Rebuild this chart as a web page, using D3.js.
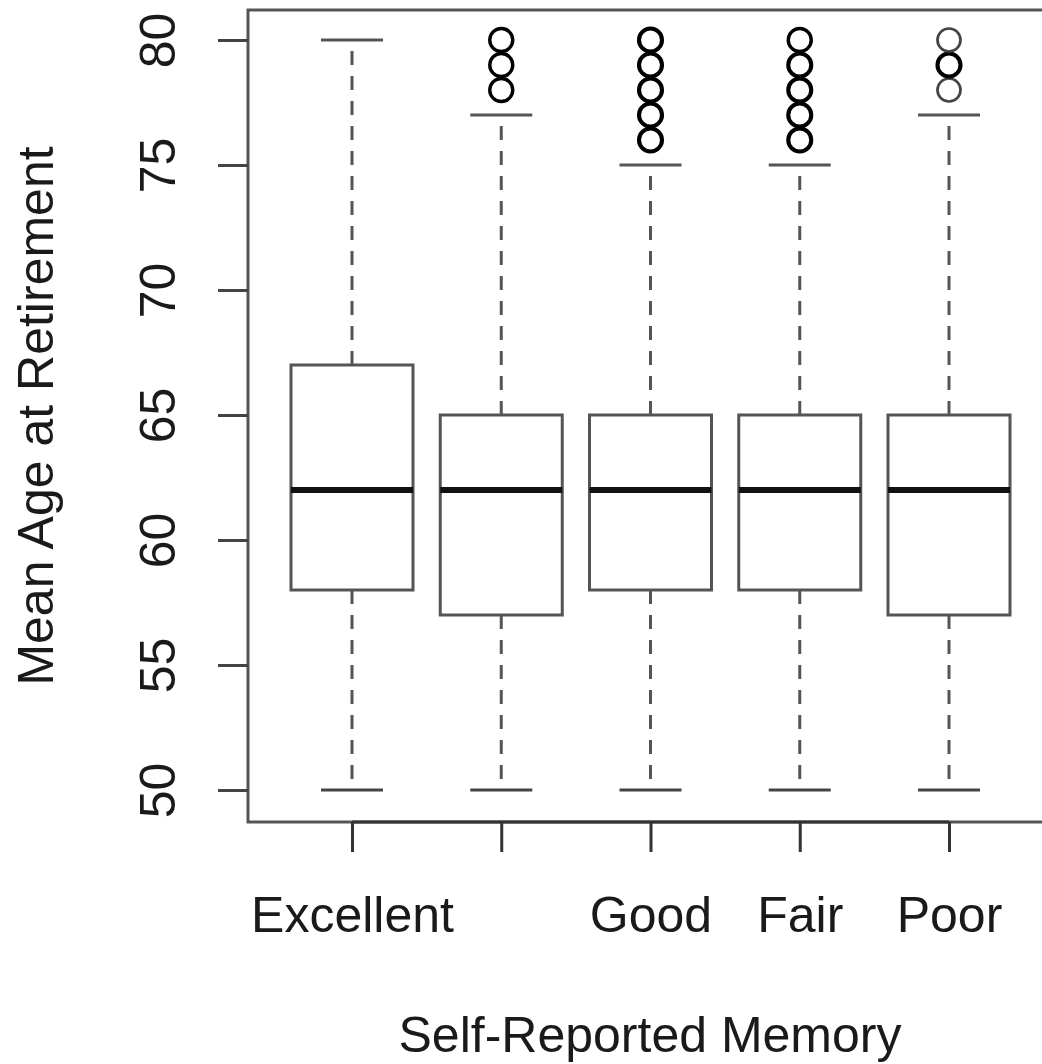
<!DOCTYPE html>
<html>
<head>
<meta charset="utf-8">
<script src="https://cdn.jsdelivr.net/npm/d3@7"></script>
<style>
  body { margin: 0; background: #fff; }
  svg { display: block; font-family: "Liberation Sans", Arial, sans-serif; }
</style>
</head>
<body>
<div id="chart"></div>
<script>
// boxplot stats
const categories = ["Excellent", "Very Good", "Good", "Fair", "Poor"];
const tickLabels = ["Excellent", "", "Good", "Fair", "Poor"]; // R dropped the 2nd label (overlap)
const whiskerLow = [50, 50, 50, 50, 50];
const q1 = [58, 57, 58, 58, 57];
const median = [62, 62, 62, 62, 62];
const q3 = [67, 65, 65, 65, 65];
const whiskerHigh = [80, 77, 75, 75, 77];
// outliers: [value, how many overplotted (roughly)]
const outliers = [
  [],
  [[78, 2], [79, 2], [80, 2]],
  [[76, 3], [77, 3], [78, 3], [79, 3], [80, 3]],
  [[76, 3], [77, 3], [78, 3], [79, 3], [80, 2]],
  [[78, 1], [79, 3], [80, 1]]
];
const yTicks = [50, 55, 60, 65, 70, 75, 80];

const width = 1042;
const height = 1064;

const svg = d3.select("#chart")
    .append("svg")
    .attr("width", width)
    .attr("height", height);

const x = d3.scalePoint()
    .domain(categories)
    .range([352, 949]);

const y = d3.scaleLinear()
    .domain([50, 80])
    .range([790, 40]);

const boxHalf = 61;
const capHalf = 31;

// plot frame (right edge runs off the image)
svg.append("rect")
    .attr("x", 248)
    .attr("y", 10)
    .attr("width", 860)
    .attr("height", 812)
    .attr("fill", "none")
    .attr("stroke", "#555")
    .attr("stroke-width", 3);

const boxes = svg.append("g")
    .selectAll("g")
    .data(categories)
    .enter()
    .append("g")
    .attr("transform", d => `translate(${x(d)},0)`);

// whiskers
boxes.append("line")
    .attr("y1", (d, i) => y(q3[i]))
    .attr("y2", (d, i) => y(whiskerHigh[i]))
    .attr("stroke", "#555")
    .attr("stroke-width", 3)
    .attr("stroke-dasharray", "14,11");

boxes.append("line")
    .attr("y1", (d, i) => y(q1[i]))
    .attr("y2", (d, i) => y(whiskerLow[i]))
    .attr("stroke", "#555")
    .attr("stroke-width", 3)
    .attr("stroke-dasharray", "14,11");

// caps
boxes.append("line")
    .attr("x1", -capHalf).attr("x2", capHalf)
    .attr("y1", (d, i) => y(whiskerHigh[i]))
    .attr("y2", (d, i) => y(whiskerHigh[i]))
    .attr("stroke", "#555")
    .attr("stroke-width", 3);

boxes.append("line")
    .attr("x1", -capHalf).attr("x2", capHalf)
    .attr("y1", (d, i) => y(whiskerLow[i]))
    .attr("y2", (d, i) => y(whiskerLow[i]))
    .attr("stroke", "#444")
    .attr("stroke-width", 3);

// the box
boxes.append("rect")
    .attr("x", -boxHalf)
    .attr("width", boxHalf * 2)
    .attr("y", (d, i) => y(q3[i]))
    .attr("height", (d, i) => y(q1[i]) - y(q3[i]))
    .attr("fill", "#fff")
    .attr("stroke", "#555")
    .attr("stroke-width", 3);

// median
boxes.append("line")
    .attr("x1", -boxHalf).attr("x2", boxHalf)
    .attr("y1", (d, i) => y(median[i]))
    .attr("y2", (d, i) => y(median[i]))
    .attr("stroke", "#111")
    .attr("stroke-width", 6);

// outlier circles
boxes.each(function(d, i) {
    d3.select(this).selectAll("circle")
        .data(outliers[i])
        .enter()
        .append("circle")
        .attr("cy", o => y(o[0]))
        .attr("r", 11.5)
        .attr("fill", "none")
        .attr("stroke", o => o[1] > 1 ? "#000" : "#444")
        .attr("stroke-width", o => 2 + o[1] * 0.7);
});

// y axis
const yAxis = svg.append("g")
    .attr("transform", "translate(248,0)")
    .call(d3.axisLeft(y).tickValues(yTicks).tickSize(30).tickSizeOuter(0));

yAxis.select(".domain").remove();
yAxis.selectAll(".tick line").attr("stroke", "#444").attr("stroke-width", 3);
yAxis.selectAll(".tick text")
    .attr("transform", "rotate(-90)")
    .attr("x", 0)
    .attr("y", -73)
    .attr("dy", 0)
    .attr("text-anchor", "middle")
    .attr("font-size", 50)
    .attr("font-family", "Liberation Sans, Arial, sans-serif")
    .attr("fill", "#1a1a1a");

// x axis
const xAxis = svg.append("g")
    .attr("transform", "translate(0,822)")
    .call(d3.axisBottom(x).tickSize(30).tickSizeOuter(0).tickFormat((d, i) => tickLabels[i]));

xAxis.select(".domain")
    .attr("d", `M${x.range()[0]},0H${x.range()[1]}`)
    .attr("stroke", "#333")
    .attr("stroke-width", 3);
xAxis.selectAll(".tick line").attr("stroke", "#333").attr("stroke-width", 3);
xAxis.selectAll(".tick text")
    .attr("y", 110)
    .attr("dy", 0)
    .attr("font-size", 50)
    .attr("font-family", "Liberation Sans, Arial, sans-serif")
    .attr("fill", "#1a1a1a");

// axis titles
svg.append("text")
    .attr("x", 650)
    .attr("y", 1052)
    .attr("text-anchor", "middle")
    .attr("font-size", 50)
    .attr("fill", "#1a1a1a")
    .text("Self-Reported Memory");

svg.append("text")
    .attr("transform", "translate(53,416) rotate(-90)")
    .attr("text-anchor", "middle")
    .attr("font-size", 50)
    .attr("fill", "#1a1a1a")
    .text("Mean Age at Retirement");
</script>
</body>
</html>
